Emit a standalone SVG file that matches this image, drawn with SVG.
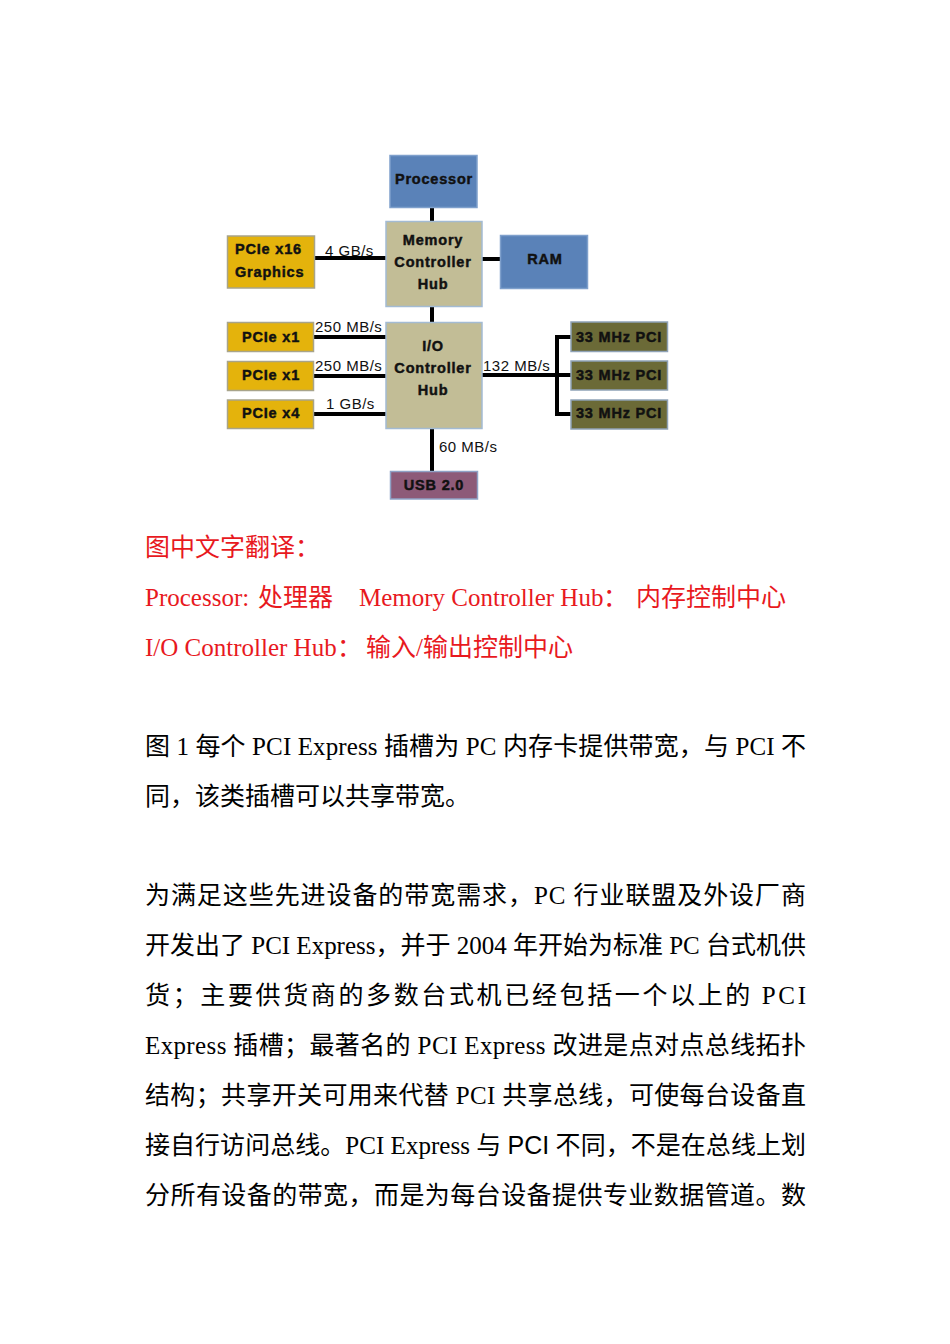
<svg xmlns="http://www.w3.org/2000/svg" width="950" height="1344" viewBox="0 0 950 1344">
<style>
.box{stroke-width:1.5}
.blue{fill:#5A82B8;stroke:#7FA0CC}
.tan{fill:#C2BD96;stroke:#A3BBD3}
.gold{fill:#E4B30C;stroke:#A8A48A}
.olive{fill:#6B6A37;stroke:#8FA2B6}
.mauve{fill:#8D5A78;stroke:#8FA2C6}
.lbl{font-family:"Liberation Sans",Arial,sans-serif;font-weight:bold;font-size:14.5px;letter-spacing:0.8px;fill:#111;stroke:#111;stroke-width:0.45}
.mid{text-anchor:middle}
.edge{font-family:"Liberation Sans",Arial,sans-serif;font-size:15px;letter-spacing:0.5px;fill:#111}
.ln{stroke:#000;stroke-width:4;fill:none}
.red{font-family:"Liberation Serif","Times New Roman","Noto Sans CJK SC",serif;font-size:25px;fill:#E8191E}
.body{font-family:"Liberation Serif","Times New Roman","Noto Sans CJK SC",serif;font-size:25px;fill:#000}
</style>
<rect width="950" height="1344" fill="#fff"/>
<g id="connectors">
<line class="ln" x1="432" y1="207" x2="432" y2="222"/>
<line class="ln" x1="314" y1="258" x2="386" y2="258"/>
<line class="ln" x1="481" y1="259" x2="501" y2="259"/>
<line class="ln" x1="432" y1="307" x2="432" y2="323"/>
<line class="ln" x1="313" y1="337" x2="386" y2="337"/>
<line class="ln" x1="313" y1="376" x2="386" y2="376"/>
<line class="ln" x1="313" y1="414" x2="386" y2="414"/>
<line class="ln" x1="481" y1="375" x2="571" y2="375"/>
<polyline class="ln" points="571,337 557,337 557,414 571,414"/>
<line class="ln" x1="432" y1="428" x2="432" y2="472"/>
<text class="edge" x="325" y="256">4 GB/s</text>
<text class="edge" x="315" y="332">250 MB/s</text>
<text class="edge" x="315" y="371">250 MB/s</text>
<text class="edge" x="326" y="409">1 GB/s</text>
<text class="edge" x="483" y="371">132 MB/s</text>
<text class="edge" x="439" y="452">60 MB/s</text>
</g>
<g id="processor"><rect class="box blue" x="390" y="155.5" width="87" height="52"/><text class="lbl mid" x="434" y="184">Processor</text></g>
<g id="mch"><rect class="box tan" x="386" y="221.5" width="96" height="85"/><text class="lbl mid" x="433" y="245">Memory</text><text class="lbl mid" x="433" y="267">Controller</text><text class="lbl mid" x="433" y="289">Hub</text></g>
<g id="ram"><rect class="box blue" x="500.5" y="235.5" width="87" height="53"/><text class="lbl mid" x="545" y="264">RAM</text></g>
<g id="pcie16"><rect class="box gold" x="227.5" y="236" width="87" height="52"/><text class="lbl" x="235" y="254">PCIe x16</text><text class="lbl" x="235" y="277">Graphics</text></g>
<g id="ioh"><rect class="box tan" x="386" y="322.5" width="96" height="106"/><text class="lbl mid" x="433" y="351">I/O</text><text class="lbl mid" x="433" y="373">Controller</text><text class="lbl mid" x="433" y="395">Hub</text></g>
<g id="pcie1a"><rect class="box gold" x="227.5" y="322.5" width="86" height="29"/><text class="lbl mid" x="271" y="342">PCIe x1</text></g>
<g id="pcie1b"><rect class="box gold" x="227.5" y="361.5" width="86" height="29"/><text class="lbl mid" x="271" y="380">PCIe x1</text></g>
<g id="pcie4"><rect class="box gold" x="227.5" y="400" width="86" height="28.5"/><text class="lbl mid" x="271" y="418">PCIe x4</text></g>
<g id="pci1"><rect class="box olive" x="571" y="322" width="96.5" height="29.5"/><text class="lbl" x="576" y="342">33 MHz PCI</text></g>
<g id="pci2"><rect class="box olive" x="571" y="361" width="96.5" height="29"/><text class="lbl" x="576" y="380">33 MHz PCI</text></g>
<g id="pci3"><rect class="box olive" x="571" y="400" width="96.5" height="29"/><text class="lbl" x="576" y="418">33 MHz PCI</text></g>
<g id="usb"><rect class="box mauve" x="390.5" y="471.5" width="87" height="27.5"/><text class="lbl mid" x="434" y="490">USB 2.0</text></g>
<g id="translation">
<text class="red" x="145" y="556">图中文字翻译：</text>
<text class="red" y="606"><tspan x="145">Processor:</tspan><tspan x="258">处理器</tspan><tspan x="359">Memory Controller Hub</tspan><tspan x="603">：</tspan><tspan x="636">内存控制中心</tspan></text>
<text class="red" y="656"><tspan x="145">I/O Controller Hub</tspan><tspan x="337">：</tspan><tspan x="366">输入/输出控制中心</tspan></text>
</g>
<g id="bodytext">
<text class="body" x="145" y="755" textLength="661" lengthAdjust="spacing">图 1 每个 PCI Express 插槽为 PC 内存卡提供带宽，与 PCI 不</text>
<text class="body" x="145" y="805">同，该类插槽可以共享带宽。</text>
<text class="body" x="145" y="904" textLength="661" lengthAdjust="spacing">为满足这些先进设备的带宽需求，PC 行业联盟及外设厂商</text>
<text class="body" x="145" y="954" textLength="661" lengthAdjust="spacing">开发出了 PCI Express，并于 2004 年开始为标准 PC 台式机供</text>
<text class="body" x="145" y="1004" textLength="661" lengthAdjust="spacing">货；主要供货商的多数台式机已经包括一个以上的 PCI</text>
<text class="body" x="145" y="1054" textLength="661" lengthAdjust="spacing">Express 插槽；最著名的 PCI Express 改进是点对点总线拓扑</text>
<text class="body" x="145" y="1104" textLength="661" lengthAdjust="spacing">结构；共享开关可用来代替 PCI 共享总线，可使每台设备直</text>
<text class="body" x="145" y="1154" textLength="661" lengthAdjust="spacing">接自行访问总线。PCI Express 与 <tspan font-family="Liberation Sans, Arial, sans-serif">PCI</tspan> 不同，不是在总线上划</text>
<text class="body" x="145" y="1204" textLength="661" lengthAdjust="spacing">分所有设备的带宽，而是为每台设备提供专业数据管道。数</text>
</g>
</svg>
